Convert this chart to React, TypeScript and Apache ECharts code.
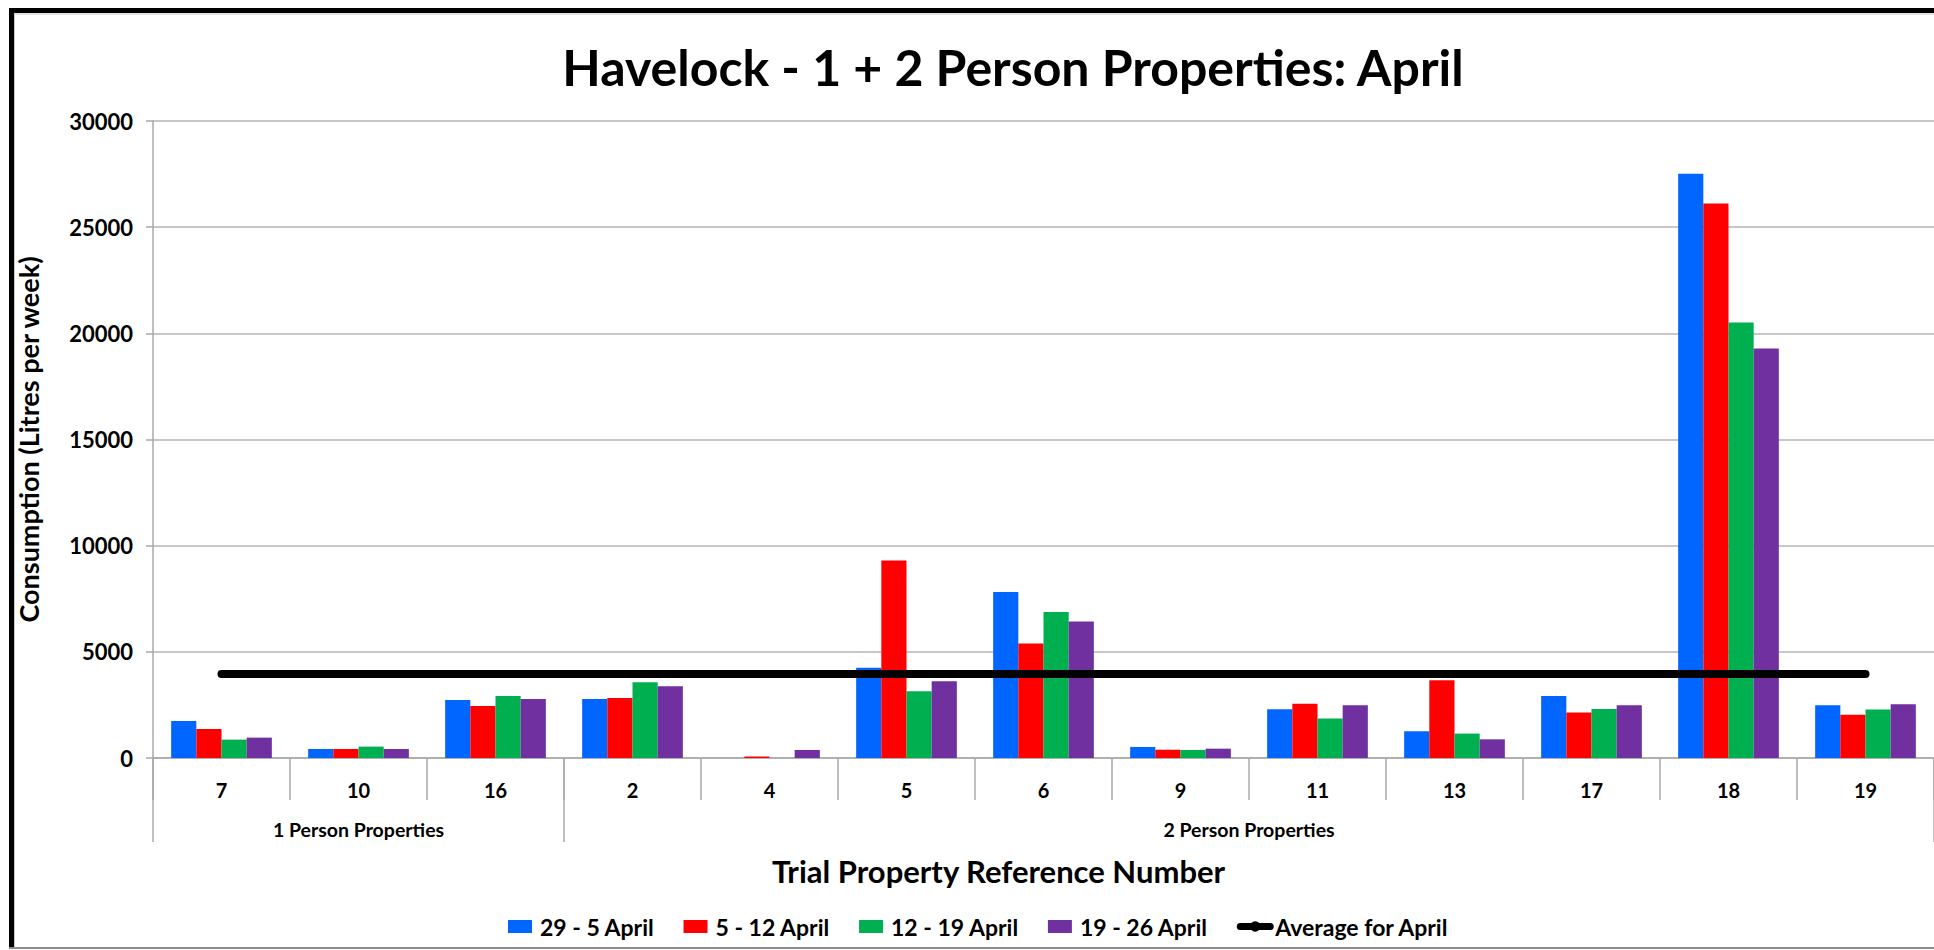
import React, { useEffect, useRef } from "react";
import * as echarts from "echarts";

const chartTitle = "Havelock - 1 + 2 Person Properties: April";
const properties = ["7", "10", "16", "2", "4", "5", "6", "9", "11", "13", "17", "18", "19"];
const groupNames = ["1 Person Properties", "2 Person Properties"];
const groupSizes = [3, 10];
const weekNames = ["29 - 5 April", "5 - 12 April", "12 - 19 April", "19 - 26 April"];
const week1 = [1740, 424, 2730, 2780, 0, 4250, 7820, 520, 2300, 1260, 2920, 27520, 2480];
const week2 = [1365, 424, 2450, 2830, 70, 9300, 5390, 390, 2550, 3660, 2140, 26110, 2040];
const week3 = [866, 537, 2920, 3570, 0, 3140, 6880, 377, 1855, 1150, 2310, 20510, 2290];
const week4 = [960, 424, 2780, 3380, 377, 3620, 6430, 440, 2484, 880, 2484, 19290, 2530];
const averageName = "Average for April";
const averageForApril = 3960;
const yMax = 30000;
const yInterval = 5000;
const yAxisName = "Consumption (Litres per week)";
const xAxisName = "Trial Property Reference Number";

const colors = ["#0066ff", "#ff0000", "#00b050", "#7030a0"];
const FONT = "Lato";
const GRID = "#b4b4b4";
const AXIS = "#a8a8a8";

export default function App() {
  const ref = useRef<HTMLDivElement>(null);
  useEffect(() => {
    if (!ref.current) return;
    const chart = echarts.init(ref.current, null, { renderer: "svg" });
    const weeks = [week1, week2, week3, week4];
    const bounds: number[] = [0];
    const centres: number[] = [];
    groupSizes.forEach((s) => {
      const start = bounds[bounds.length - 1];
      centres.push(start + s / 2);
      bounds.push(start + s);
    });
    const option: any = {
      animation: false,
      backgroundColor: "#ffffff",
      textStyle: { fontFamily: FONT, color: "#000" },
      title: {
        text: chartTitle,
        left: 1008,
        textAlign: "center",
        top: 37,
        textStyle: { fontFamily: FONT, fontSize: 50, fontWeight: "bold", color: "#000" },
      },
      legend: {
        left: 503,
        top: 910,
        itemWidth: 30,
        itemHeight: 13,
        itemGap: 29,
        symbolKeepAspect: true,
        textStyle: { fontFamily: FONT, fontSize: 23, fontWeight: "bold", color: "#000" },
        data: [
          ...weekNames.map((n) => ({ name: n, icon: "path://M0,0H24V13H0Z" })),
          { name: averageName, lineStyle: { width: 7, cap: "round" } },
        ],
      },
      grid: { left: 153, top: 121, right: -3, bottom: 192 },
      xAxis: [
        {
          type: "category",
          data: properties,
          boundaryGap: true,
          axisLine: { show: true, lineStyle: { color: AXIS, width: 1.5 } },
          axisTick: { show: true, interval: 0, length: 42, lineStyle: { color: AXIS, width: 1.5 } },
          axisLabel: { interval: 0, margin: 22, fontFamily: FONT, fontSize: 20, fontWeight: "bold", color: "#000" },
          splitLine: { show: false },
        },
        {
          type: "value",
          min: 0,
          max: properties.length,
          position: "bottom",
          axisLine: { show: false },
          splitLine: { show: false },
          axisTick: {
            show: true,
            length: 84,
            customValues: bounds,
            lineStyle: { color: AXIS, width: 1.5 },
          },
          axisLabel: {
            show: true,
            margin: 61,
            customValues: centres,
            formatter: (v: number) => {
              const i = centres.findIndex((c) => Math.abs(c - v) < 1e-6);
              return i >= 0 ? groupNames[i] : "";
            },
            fontFamily: FONT,
            fontSize: 19.5,
            fontWeight: "bold",
            color: "#000",
          },
          name: xAxisName,
          nameLocation: "middle",
          nameGap: 97,
          nameTextStyle: {
            fontFamily: FONT,
            fontSize: 31,
            fontWeight: "bold",
            color: "#000",
            padding: [0, 90, 0, 0],
          },
        },
      ],
      yAxis: {
        type: "value",
        min: 0,
        max: yMax,
        interval: yInterval,
        axisLine: { show: true, lineStyle: { color: AXIS, width: 1.5 } },
        axisTick: { show: true, length: 7, lineStyle: { color: AXIS, width: 1.5 } },
        splitLine: { show: true, lineStyle: { color: GRID, width: 1.5 } },
        axisLabel: {
          margin: 20,
          formatter: (v: number) => String(v),
          fontFamily: FONT,
          fontSize: 22,
          fontWeight: "bold",
          color: "#000",
        },
        name: yAxisName,
        nameLocation: "middle",
        nameGap: 111,
        nameTextStyle: { fontFamily: FONT, fontSize: 27, fontWeight: "bold", color: "#000" },
      },
      series: [
        ...weeks.map((d, i) => ({
          name: weekNames[i],
          type: "bar",
          data: d,
          barGap: "0%",
          barCategoryGap: "26.5%",
          itemStyle: { color: colors[i] },
        })),
        {
          name: averageName,
          type: "line",
          data: properties.map(() => averageForApril),
          symbol: "none",
          lineStyle: { color: "#000", width: 8, cap: "round" },
          itemStyle: { color: "#000" },
          z: 5,
        },
      ],
      graphic: [
        { type: "rect", shape: { x: 9, y: 8, width: 1925, height: 5 }, style: { fill: "#000" } },
        { type: "rect", shape: { x: 9, y: 8, width: 5, height: 941 }, style: { fill: "#000" } },
        { type: "line", shape: { x1: 14, y1: 14, x2: 1934, y2: 14 }, style: { stroke: "#c8c8c8", lineWidth: 1 } },
        { type: "line", shape: { x1: 14.5, y1: 14, x2: 14.5, y2: 948 }, style: { stroke: "#c8c8c8", lineWidth: 1 } },
        { type: "line", shape: { x1: 9, y1: 948, x2: 1934, y2: 948 }, style: { stroke: "#8c8c8c", lineWidth: 2 } },
      ],
    };
    chart.setOption(option);
    return () => chart.dispose();
  }, []);
  return (
    <div
      ref={ref}
      style={{ position: "fixed", left: 0, top: 0, width: 1934, height: 950, background: "#fff" }}
    />
  );
}
